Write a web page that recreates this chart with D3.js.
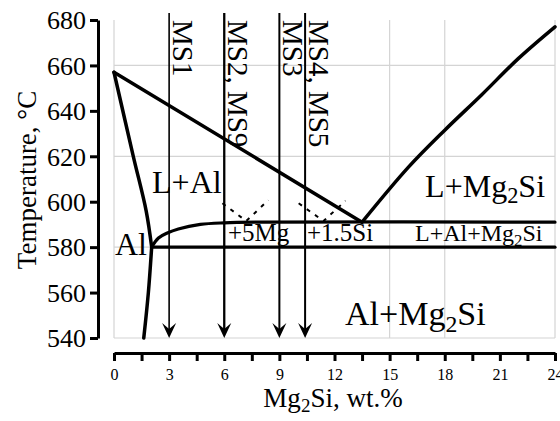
<!DOCTYPE html>
<html>
<head>
<meta charset="utf-8">
<script src="https://cdn.jsdelivr.net/npm/d3@7"></script>
<style>
  body { margin: 0; background: #fff; }
  svg text { font-family: "Liberation Serif", "Times New Roman", serif !important; fill: #000; }
</style>
</head>
<body>
<div id="chart"></div>
<script>
//Data
const xTicks = [0, 3, 6, 9, 12, 15, 18, 21, 24];
const xMinorTicks = [0, 1.5, 3, 4.5, 6, 7.5, 9, 10.5, 12, 13.5, 15, 16.5, 18, 19.5, 21, 22.5, 24];
const yTicks = [540, 560, 580, 600, 620, 640, 660, 680];
const gridX = [0, 15, 18, 24];
const gridY = [540, 580, 620, 660];

const liquidusAl = [[0, 657], [13.5, 591]];
const liquidusMg2Si = [[13.5, 591], [16, 615], [18, 631.5], [20, 647], [22, 663], [24, 677]];
const solidusAl = [[0, 657], [1.05, 620], [1.75, 596], [2.05, 580]];
const solvusAl = [[2.05, 580], [1.87, 560], [1.62, 540]];
const threePhaseTop = [[2.05, 580], [2.42, 584], [2.9, 586.2], [3.5, 588], [4.7, 590], [6, 590.7], [8, 591], [24, 591]];
const eutecticLine = [[2.05, 580], [24, 580]];
const dashV1 = [[5.9, 599.3], [7.2, 591.5], [8.4, 600.7]];
const dashV2 = [[10.05, 599.3], [11.4, 591.5], [12.6, 600.4]];

const msX = [3, 6, 9, 10.4];
const msLabels = ['MS1', 'MS2, MS9', 'MS3', 'MS4, MS5'];

//Region labels: [before sub, sub, after sub], anchor in data units
const regionLabels = [
    {parts: ['L+Al', '', ''], x: 2.07, t: 603.8, size: 32},
    {parts: ['Al', '', ''], x: 0.05, t: 576.5, size: 32},
    {parts: ['L+Mg', '2', 'Si'], x: 16.93, t: 602.1, size: 32},
    {parts: ['Al+Mg', '2', 'Si'], x: 12.57, t: 545.7, size: 34},
    {parts: ['L+Al+Mg', '2', 'Si'], x: 16.38, t: 582.7, size: 24},
    {parts: ['+5Mg', '', ''], x: 6.2, t: 582.5, size: 25},
    {parts: ['+1.5Si', '', ''], x: 10.5, t: 582.5, size: 25}
];

//Config
const W = 560, H = 421;
const serif = '"Liberation Serif", "Times New Roman", serif';
const x = d3.scaleLinear().domain([0, 24]).range([114, 555]);
const y = d3.scaleLinear().domain([540, 680]).range([338, 20]);

const svg = d3.select('#chart').append('svg')
    .attr('width', W)
    .attr('height', H)
    .attr('font-family', serif);

//Grid
svg.append('g').selectAll('line')
    .data(gridX)
    .enter().append('line')
    .attr('x1', d => x(d)).attr('x2', d => x(d))
    .attr('y1', y(680)).attr('y2', y(540))
    .attr('stroke', '#d4d4d4').attr('stroke-width', 1.2);

svg.append('g').selectAll('line')
    .data(gridY)
    .enter().append('line')
    .attr('x1', x(0)).attr('x2', x(24))
    .attr('y1', d => y(d)).attr('y2', d => y(d))
    .attr('stroke', '#d4d4d4').attr('stroke-width', 1.2);

//Axes
const yAxis = svg.append('g')
    .attr('transform', 'translate(98,0)')
    .call(d3.axisLeft(y).tickValues(yTicks).tickSize(8).tickPadding(4).tickSizeOuter(0))
    .attr('font-family', serif);
yAxis.select('.domain').attr('stroke-width', 3);
yAxis.selectAll('.tick line').attr('stroke-width', 3);
yAxis.selectAll('.tick text')
    .style('font-family', serif)
    .style('font-size', '26px')
    .attr('dy', '0.34em');

const xAxis = svg.append('g')
    .attr('transform', 'translate(0,353)')
    .call(d3.axisBottom(x).tickValues(xMinorTicks).tickSize(8).tickSizeOuter(0)
        .tickFormat(d => xTicks.includes(d) ? d : ''))
    .attr('font-family', serif);
xAxis.select('.domain').attr('stroke-width', 3);
xAxis.selectAll('.tick line').attr('stroke-width', 3);
xAxis.selectAll('.tick text')
    .style('font-family', serif)
    .style('font-size', '16px')
    .attr('y', 16);

//Axis titles
svg.append('text')
    .attr('transform', 'translate(36,180) rotate(-90)')
    .attr('text-anchor', 'middle')
    .style('font-size', '27px')
    .text('Temperature, °C');

const xTitle = svg.append('text')
    .attr('x', 333).attr('y', 407)
    .attr('text-anchor', 'middle')
    .style('font-size', '27px');
xTitle.append('tspan').text('Mg');
xTitle.append('tspan').attr('dy', 5).style('font-size', '19px').text('2');
xTitle.append('tspan').attr('dy', -5).text('Si, wt.%');

//Phase lines
const line = d3.line()
    .x(d => x(d[0]))
    .y(d => y(d[1]));
const smooth = d3.line()
    .x(d => x(d[0]))
    .y(d => y(d[1]))
    .curve(d3.curveCatmullRom);

const lines = svg.append('g')
    .attr('fill', 'none')
    .attr('stroke', '#000')
    .attr('stroke-linecap', 'round')
    .attr('stroke-linejoin', 'round');

lines.append('path').attr('d', line(liquidusAl)).attr('stroke-width', 3.5);
lines.append('path').attr('d', smooth(liquidusMg2Si)).attr('stroke-width', 3.5);
lines.append('path').attr('d', smooth(solidusAl)).attr('stroke-width', 3.5);
lines.append('path').attr('d', smooth(solvusAl)).attr('stroke-width', 3.5);
lines.append('path').attr('d', smooth(threePhaseTop)).attr('stroke-width', 3.2);
lines.append('path').attr('d', line(eutecticLine)).attr('stroke-width', 3.2);

[dashV1, dashV2].forEach(v => {
    lines.append('path')
        .attr('d', line(v))
        .attr('stroke-width', 2)
        .attr('stroke-linecap', 'butt')
        .attr('stroke-dasharray', '4,6');
});

//Sample arrows
const msWidths = [1.6, 2.3, 2, 2];
const ms = svg.append('g').selectAll('g')
    .data(msX)
    .enter().append('g');

ms.append('line')
    .attr('x1', d => x(d)).attr('x2', d => x(d))
    .attr('y1', 13).attr('y2', y(540) - 6)
    .attr('stroke', '#000')
    .attr('stroke-width', (d, i) => msWidths[i]);

ms.append('path')
    .attr('d', 'M0,0 L-7,-15 L0,-9 L7,-15 Z')
    .attr('transform', d => `translate(${x(d)},${y(540)})`)
    .attr('fill', '#000');

ms.append('text')
    .attr('transform', d => `translate(${x(d) + 4},20) rotate(90)`)
    .style('font-size', '29px')
    .text((d, i) => msLabels[i]);

//Region labels
const labels = svg.append('g').selectAll('text')
    .data(regionLabels)
    .enter().append('text')
    .attr('x', d => x(d.x))
    .attr('y', d => y(d.t))
    .style('font-size', d => d.size + 'px');

labels.append('tspan').text(d => d.parts[0]);
labels.filter(d => d.parts[1] !== '').append('tspan')
    .attr('dy', d => d.size * 0.2)
    .style('font-size', d => (d.size * 0.7) + 'px')
    .text(d => d.parts[1]);
labels.filter(d => d.parts[1] !== '').append('tspan')
    .attr('dy', d => -d.size * 0.2)
    .text(d => d.parts[2]);
</script>
</body>
</html>
